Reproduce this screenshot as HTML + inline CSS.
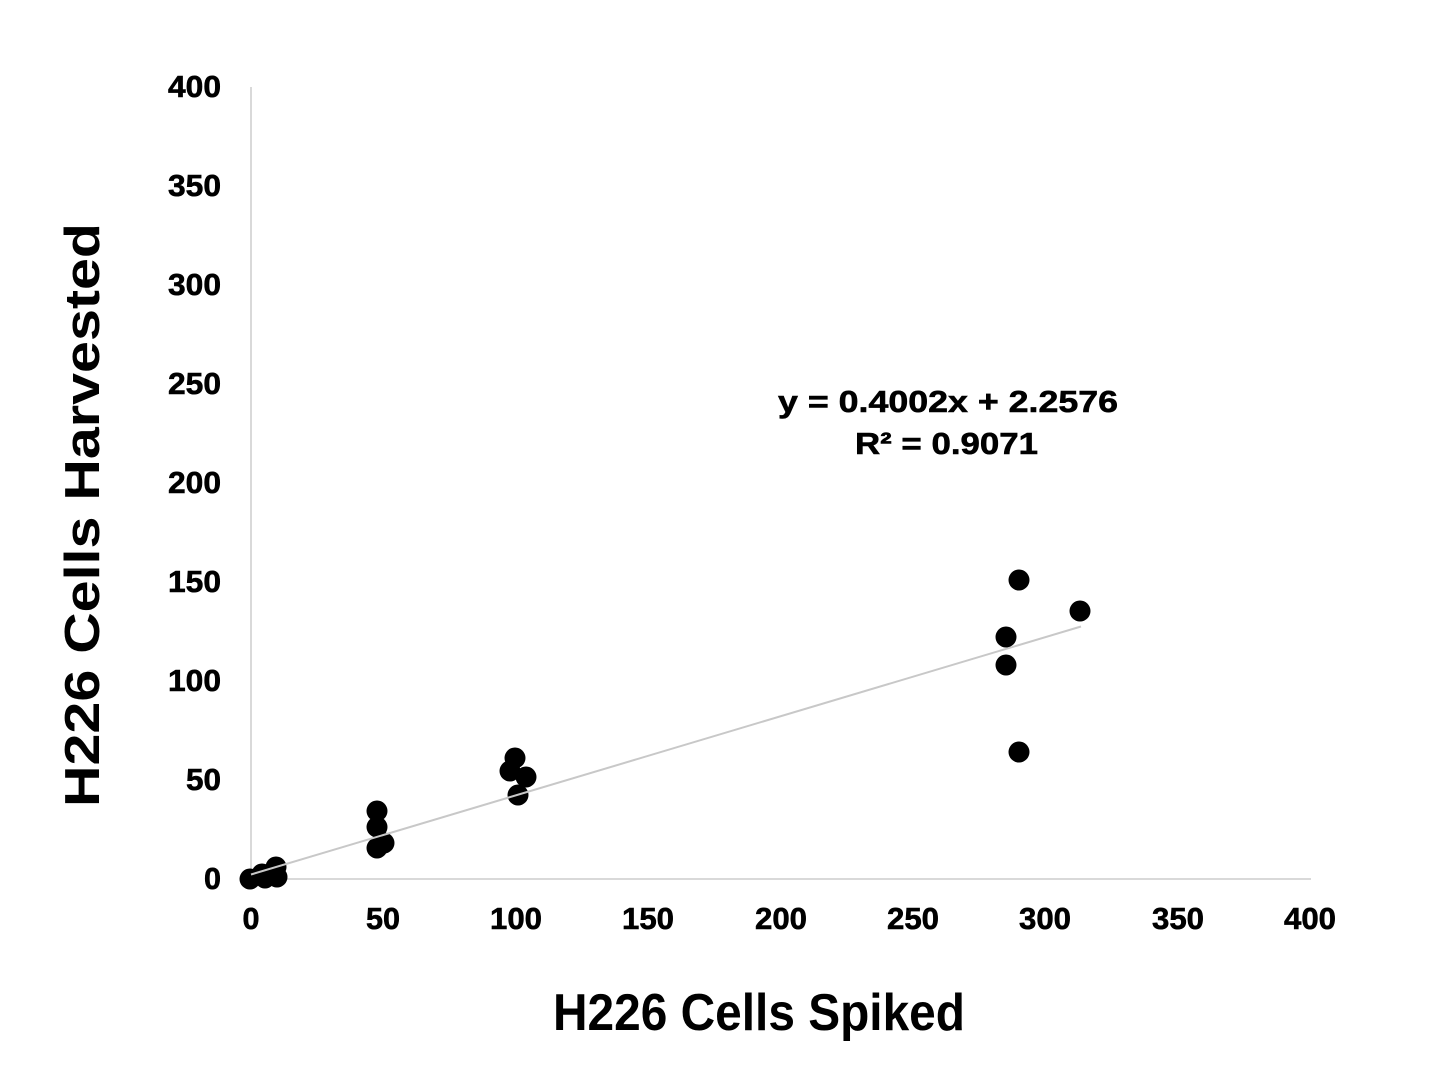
<!DOCTYPE html>
<html>
<head>
<meta charset="utf-8">
<style>
  html, body { margin:0; padding:0; background:#ffffff; }
  body { width:1456px; height:1080px; overflow:hidden; }
  svg { display:block; }
  text { font-family: "Liberation Sans", Arial, sans-serif; font-weight: bold; fill:#000; }
  .heavy { stroke:#000; stroke-width:0.6px; }
</style>
</head>
<body>
<svg width="1456" height="1080" viewBox="0 0 1456 1080" xmlns="http://www.w3.org/2000/svg">
  <rect x="0" y="0" width="1456" height="1080" fill="#ffffff"/>

  <!-- axes -->
  <line x1="251" y1="87" x2="251" y2="879" stroke="#d9d9d9" stroke-width="2"/>
  <line x1="251" y1="879" x2="1311" y2="879" stroke="#d9d9d9" stroke-width="2"/>

  <!-- y tick labels -->
  <g font-size="31" text-anchor="end" class="heavy">
    <text x="221" y="889" textLength="17" lengthAdjust="spacingAndGlyphs">0</text>
    <text x="221" y="790" textLength="35" lengthAdjust="spacingAndGlyphs">50</text>
    <text x="221" y="691" textLength="53" lengthAdjust="spacingAndGlyphs">100</text>
    <text x="221" y="592" textLength="53" lengthAdjust="spacingAndGlyphs">150</text>
    <text x="221" y="493" textLength="53" lengthAdjust="spacingAndGlyphs">200</text>
    <text x="221" y="394" textLength="53" lengthAdjust="spacingAndGlyphs">250</text>
    <text x="221" y="295" textLength="53" lengthAdjust="spacingAndGlyphs">300</text>
    <text x="221" y="196" textLength="53" lengthAdjust="spacingAndGlyphs">350</text>
    <text x="221" y="97" textLength="53" lengthAdjust="spacingAndGlyphs">400</text>
  </g>

  <!-- x tick labels -->
  <g font-size="31" class="heavy">
    <text x="242.5" y="929" textLength="17" lengthAdjust="spacingAndGlyphs">0</text>
    <text x="366" y="929" textLength="34" lengthAdjust="spacingAndGlyphs">50</text>
    <text x="490" y="929" textLength="52" lengthAdjust="spacingAndGlyphs">100</text>
    <text x="622" y="929" textLength="52" lengthAdjust="spacingAndGlyphs">150</text>
    <text x="755" y="929" textLength="52" lengthAdjust="spacingAndGlyphs">200</text>
    <text x="887" y="929" textLength="52" lengthAdjust="spacingAndGlyphs">250</text>
    <text x="1019" y="929" textLength="52" lengthAdjust="spacingAndGlyphs">300</text>
    <text x="1152" y="929" textLength="52" lengthAdjust="spacingAndGlyphs">350</text>
    <text x="1284" y="929" textLength="52" lengthAdjust="spacingAndGlyphs">400</text>
  </g>

  <!-- data points -->
  <g fill="#000">
    <circle cx="250" cy="879" r="10.5"/>
    <circle cx="262" cy="874" r="10.5"/>
    <circle cx="265" cy="878" r="10.5"/>
    <circle cx="276" cy="867" r="10.5"/>
    <circle cx="277" cy="877" r="10.5"/>

    <circle cx="377" cy="811" r="10.5"/>
    <circle cx="377" cy="827" r="10.5"/>
    <circle cx="377" cy="848" r="10.5"/>
    <circle cx="384" cy="843" r="10.5"/>

    <circle cx="515" cy="758" r="10.5"/>
    <circle cx="510" cy="771" r="10.5"/>
    <circle cx="526" cy="777" r="10.5"/>
    <circle cx="518" cy="795" r="10.5"/>

    <circle cx="1019" cy="580" r="10.5"/>
    <circle cx="1080" cy="611" r="10.5"/>
    <circle cx="1006" cy="637" r="10.5"/>
    <circle cx="1006" cy="665" r="10.5"/>
    <circle cx="1019" cy="752" r="10.5"/>
  </g>

  <!-- trendline -->
  <line x1="251" y1="874.5" x2="1081" y2="626.5" stroke="#c8c8c8" stroke-width="2"/>

  <!-- equation -->
  <text x="778" y="412" font-size="31" class="heavy" textLength="340" lengthAdjust="spacingAndGlyphs">y = 0.4002x + 2.2576</text>
  <text x="855" y="454" font-size="31" class="heavy" textLength="183" lengthAdjust="spacingAndGlyphs">R² = 0.9071</text>

  <!-- axis titles -->
  <text x="553" y="1030" font-size="52" textLength="412" lengthAdjust="spacingAndGlyphs">H226 Cells Spiked</text>
  <text transform="translate(99,807) rotate(-90)" x="0" y="0" font-size="49" textLength="584" lengthAdjust="spacingAndGlyphs">H226 Cells Harvested</text>
</svg>
</body>
</html>
